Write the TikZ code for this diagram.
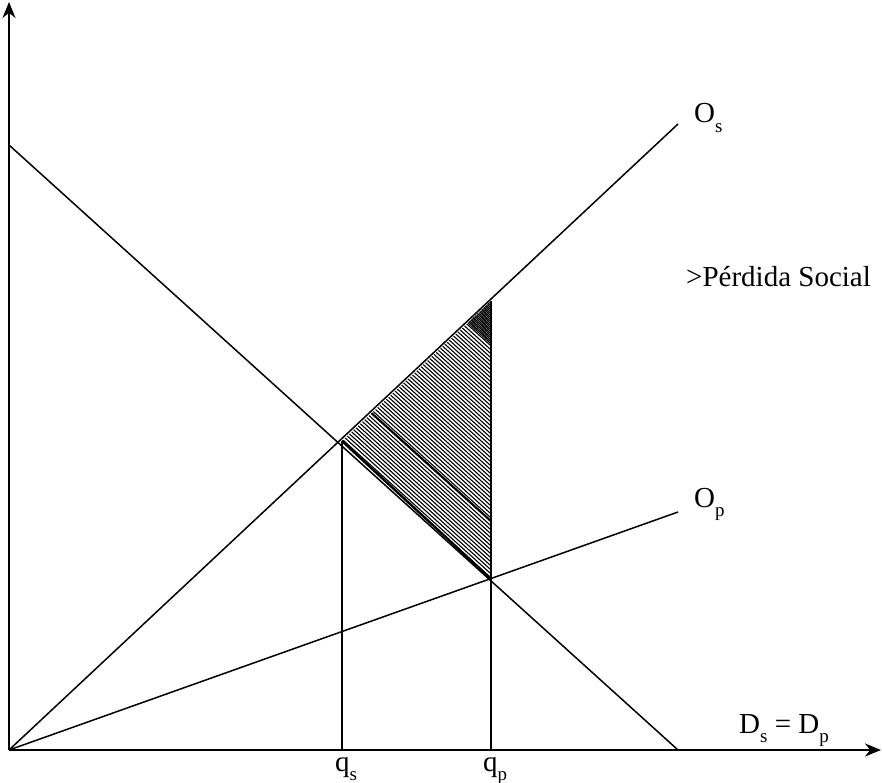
\documentclass[tikz,border=0pt]{standalone}
\usepackage{fontspec}
\setmainfont{Liberation Serif}
\usetikzlibrary{arrows.meta}
\newcommand{\subx}[1]{\raisebox{-0.32em}{\fontsize{19}{20}\selectfont #1}}
\begin{document}
\begin{tikzpicture}[x=1pt,y=-1pt,
  axis/.style={line width=2.6pt,-{Stealth[length=16pt,width=13pt]}},
  curve/.style={line width=1.5pt},
  lbl/.style={font=\fontsize{29}{32}\selectfont,inner sep=0pt}]
\useasboundingbox (0,0) rectangle (882,783);
% coordinates
\coordinate (O) at (9,750);
\coordinate (Ytop) at (9,2);
\coordinate (Xend) at (881,750);
\coordinate (Dtop) at (9,145);
\coordinate (Dend) at (678,750);
\coordinate (Osend) at (678,124);
\coordinate (Opend) at (678,512);
\coordinate (E1) at (342,441);
\coordinate (Tp) at (491,301);
\coordinate (E2) at (491,579);
\coordinate (qsb) at (342,750);
\coordinate (qpb) at (491,750);
% hatching
\begin{scope}
\clip (E1) -- (Tp) -- (E2) -- cycle;
\foreach \c in {-150,-146,...,140}{
  \draw[line width=1.1pt] (300,271.2+\c) -- ++(250,226);
}
\foreach \c in {-150,-148,...,-100}{
  \draw[line width=1pt] (455,411.3+\c) -- ++(100,90.4);
}
\draw[line width=1.8pt] (300,271.2+77) -- ++(250,226);
\end{scope}
% lines
\draw[curve] (Dtop) -- (Dend);
\draw[curve] (O) -- (Osend);
\draw[curve] (O) -- (Opend);
\draw[curve] (E1) -- (qsb);
\draw[curve] (Tp) -- (qpb);
\draw[line width=2.4pt] (E1) -- (E2);
\draw[axis] (O) -- (Ytop);
\draw[axis] (O) -- (Xend);
% labels
\node[lbl,anchor=base west] (los) at (694,123) {O\subx{s}};
\node[lbl,anchor=base west] (lop) at (694,507) {O\subx{p}};
\node[lbl,anchor=base west] (lps) at (686,286) {>Pérdida Social};
\node[lbl,anchor=base west] (ld) at (739,733) {D\subx{s} = D\subx{p}};
\node[lbl,anchor=base] (lqs) at (346,771) {q\subx{s}};
\node[lbl,anchor=base] (lqp) at (495,771) {q\subx{p}};
\end{tikzpicture}
\end{document}
